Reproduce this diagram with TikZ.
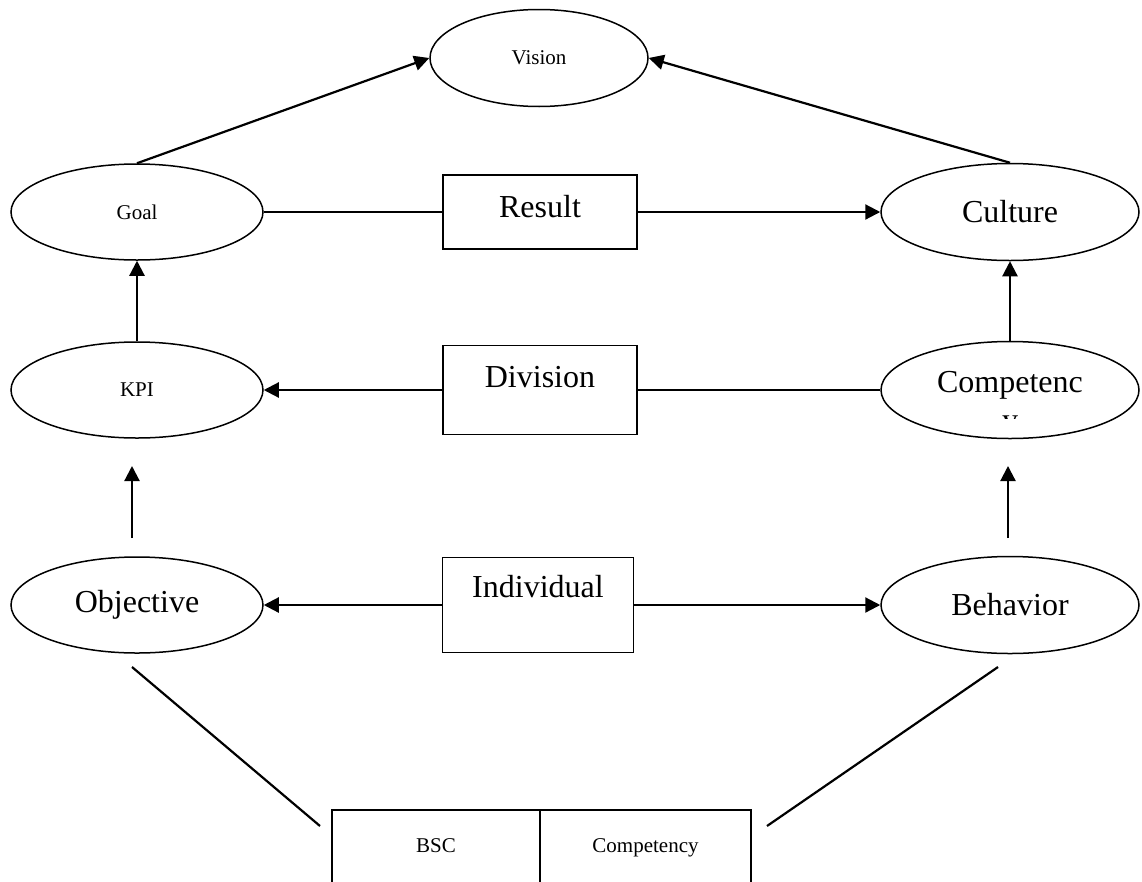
\documentclass[tikz,border=0pt]{standalone}
\usepackage{fontspec}
\setmainfont{Liberation Serif}
\usetikzlibrary{arrows.meta,shapes.geometric}
\tikzset{
  oval/.style={ellipse, draw, line width=1.5pt, minimum width=252pt, minimum height=96pt, inner sep=0pt},
  ovalwide/.style={oval, minimum width=258pt, minimum height=97pt},
  levelbox/.style={rectangle, draw, line width=1.5pt, minimum width=194pt, inner sep=0pt},
  cellbox/.style={rectangle, draw, line width=1.5pt, inner sep=0pt, text height=42pt, text depth=60pt},
  linkln/.style={line width=2.2pt},
  arrln/.style={-{Triangle[length=15pt,width=15pt]}, line width=2.2pt},
  bigtxt/.style={font=\fontsize{32}{37}\selectfont},
  smalltxt/.style={font=\fontsize{21}{25}\selectfont},
}

\begin{document}
\begin{tikzpicture}[x=1pt,y=-1pt]
    \useasboundingbox (0,0) rectangle (1142,881);
    \clip (0,0) rectangle (1142,881);
    % top row
    \node[oval, smalltxt, minimum width=218pt, minimum height=97pt] (vision) at (539,58) {Vision};
    \node[oval, smalltxt] (goal) at (137,212) {Goal};
    \node[levelbox, bigtxt, text height=42pt, text depth=32pt] (result) at (540,212) {Result};
    \node[ovalwide, bigtxt] (culture) at (1010,212) {Culture};
    % middle row
    \node[oval, smalltxt] (kpi) at (137,390) {KPI};
    \node[levelbox, bigtxt, text height=42pt, text depth=47pt] (division) at (540,390) {Division};
    \node[ovalwide, bigtxt, text height=22pt, text depth=18pt] (competency) at (1010,390) {Competenc};
    % wrapped last letter, cut off by the oval
    \begin{scope}
      \clip (900,408) rectangle (1120,418);
      \node[bigtxt, anchor=base, inner sep=0pt] (compy) at (1010,430) {y};
    \end{scope}
    % bottom row
    \node[oval, bigtxt] (objective) at (137,605) {Objective};
    \node[levelbox, bigtxt, minimum width=191pt, text height=40pt, text depth=55pt] (individual) at (538,605) {Individual};
    \node[ovalwide, bigtxt] (behavior) at (1010,605) {Behavior};
    % frameworks
    \node[cellbox, smalltxt, minimum width=208pt, anchor=base] (bsc) at (436,852) {BSC};
    \node[cellbox, smalltxt, minimum width=211pt, anchor=base] (compfw) at (645.5,852) {Competency};
    % free ends
    \coordinate (objup) at (132,538);
    \coordinate (kpitip) at (132,466);
    \coordinate (behup) at (1008,538);
    \coordinate (comptip) at (1008,466);
    \coordinate (objfoot) at (132,667);
    \coordinate (bscleft) at (320,826);
    \coordinate (behfoot) at (998,667);
    \coordinate (compright) at (767,826);
    % connectors
    \draw[arrln] (goal.north) -- (vision.west);
    \draw[arrln] (culture.north) -- (vision.east);
    \draw[linkln] (goal.east) -- (result.west);
    \draw[arrln] (result.east) -- (culture.west);
    \draw[arrln] (kpi.north) -- (goal.south);
    \draw[arrln] (competency.north) -- (culture.south);
    \draw[arrln] (division.west) -- (kpi.east);
    \draw[linkln] (division.east) -- (competency.west);
    \draw[arrln] (objup) -- (kpitip);
    \draw[arrln] (behup) -- (comptip);
    \draw[arrln] (individual.west) -- (objective.east);
    \draw[arrln] (individual.east) -- (behavior.west);
    \draw[linkln] (objfoot) -- (bscleft);
    \draw[linkln] (behfoot) -- (compright);
\end{tikzpicture}
\end{document}
